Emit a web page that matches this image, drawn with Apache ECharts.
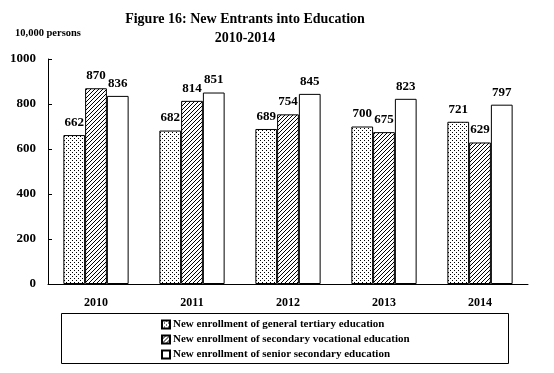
<!DOCTYPE html>
<html><head><meta charset="utf-8">
<script src="https://cdn.jsdelivr.net/npm/echarts@6/dist/echarts.min.js"></script>
<style>html,body{margin:0;padding:0;background:#fff}#c{width:554px;height:373px}</style>
</head><body><div id="c"></div>
<script>
const categories = ['2010','2011','2012','2013','2014'];
const seriesNames = [
  'New enrollment of general tertiary education',
  'New enrollment of secondary vocational education',
  'New enrollment of senior secondary education'
];
const tertiary = [662, 682, 689, 700, 721];
const vocational = [870, 814, 754, 675, 629];
const senior = [836, 851, 845, 823, 797];
const yTicks = [0, 200, 400, 600, 800, 1000];

function dotPattern(){
  const c = document.createElement('canvas'); c.width = 4; c.height = 4;
  const x = c.getContext('2d'); x.fillStyle = '#fff'; x.fillRect(0,0,4,4);
  x.fillStyle = '#000'; x.fillRect(0,0,1,1); x.fillRect(2,2,1,1);
  return c;
}
function hatchPattern(){
  const c = document.createElement('canvas'); c.width = 4; c.height = 4;
  const x = c.getContext('2d'); x.fillStyle = '#fff'; x.fillRect(0,0,4,4);
  x.fillStyle = '#000'; x.fillRect(0,3,1,1); x.fillRect(1,2,1,1); x.fillRect(2,1,1,1); x.fillRect(3,0,1,1);
  return c;
}
const font = 'Liberation Serif';
const fills = [
  {image: dotPattern(), repeat: 'repeat'},
  {image: hatchPattern(), repeat: 'repeat'},
  '#ffffff'
];
const dataSets = [tertiary, vocational, senior];

const chart = echarts.init(document.getElementById('c'), null, {renderer: 'canvas'});
chart.setOption({
  animation: false,
  backgroundColor: '#fff',
  title: {
    text: 'Figure 16: New Entrants into Education\n2010-2014',
    left: 245, top: 10, padding: 0, textAlign: 'center',
    textStyle: {fontFamily: font, fontWeight: 'bold', fontSize: 14, color: '#000', lineHeight: 19}
  },
  graphic: [
    {type: 'text', left: 15, top: 28, style: {text: '10,000 persons', font: 'bold 10.5px "Liberation Serif"', fill: '#000'}},
    {type: 'rect', shape: {x: 61.5, y: 313.5, width: 447, height: 50}, style: {fill: 'none', stroke: '#000', lineWidth: 1}}
  ],
  legend: {
    orient: 'vertical', left: 161, top: 318, height: 55, padding: 0,
    itemWidth: 8, itemHeight: 8, itemGap: 2,
    icon: 'rect',
    textStyle: {fontFamily: font, fontWeight: 'bold', fontSize: 11, lineHeight: 13, color: '#000', padding: [0,0,0,-2]},
    data: seriesNames
  },
  grid: {left: 48, right: 26, top: 59, bottom: 89},
  xAxis: {
    type: 'category', data: categories,
    axisLine: {lineStyle: {color: '#000', width: 1}},
    axisTick: {inside: true, length: 4, lineStyle: {color: '#000'}},
    axisLabel: {fontFamily: font, fontWeight: 'bold', fontSize: 12, color: '#000', margin: 13}
  },
  yAxis: {
    type: 'value', min: yTicks[0], max: yTicks[yTicks.length-1], interval: yTicks[1]-yTicks[0],
    axisLine: {show: true, lineStyle: {color: '#000', width: 1}},
    axisTick: {show: true, inside: true, length: 4, lineStyle: {color: '#000'}},
    splitLine: {show: false},
    axisLabel: {fontFamily: font, fontWeight: 'bold', fontSize: 13, color: '#000', margin: 12, formatter: v => String(v)}
  },
  series: dataSets.map((d, i) => ({
    name: seriesNames[i], type: 'bar', data: d,
    barGap: '0%', barCategoryGap: '32%',
    itemStyle: {color: fills[i], borderColor: '#000', borderWidth: 1},
    label: {show: true, position: 'top', distance: 6, fontFamily: font, fontWeight: 'bold', fontSize: 13, color: '#000'}
  }))
});
</script></body></html>
